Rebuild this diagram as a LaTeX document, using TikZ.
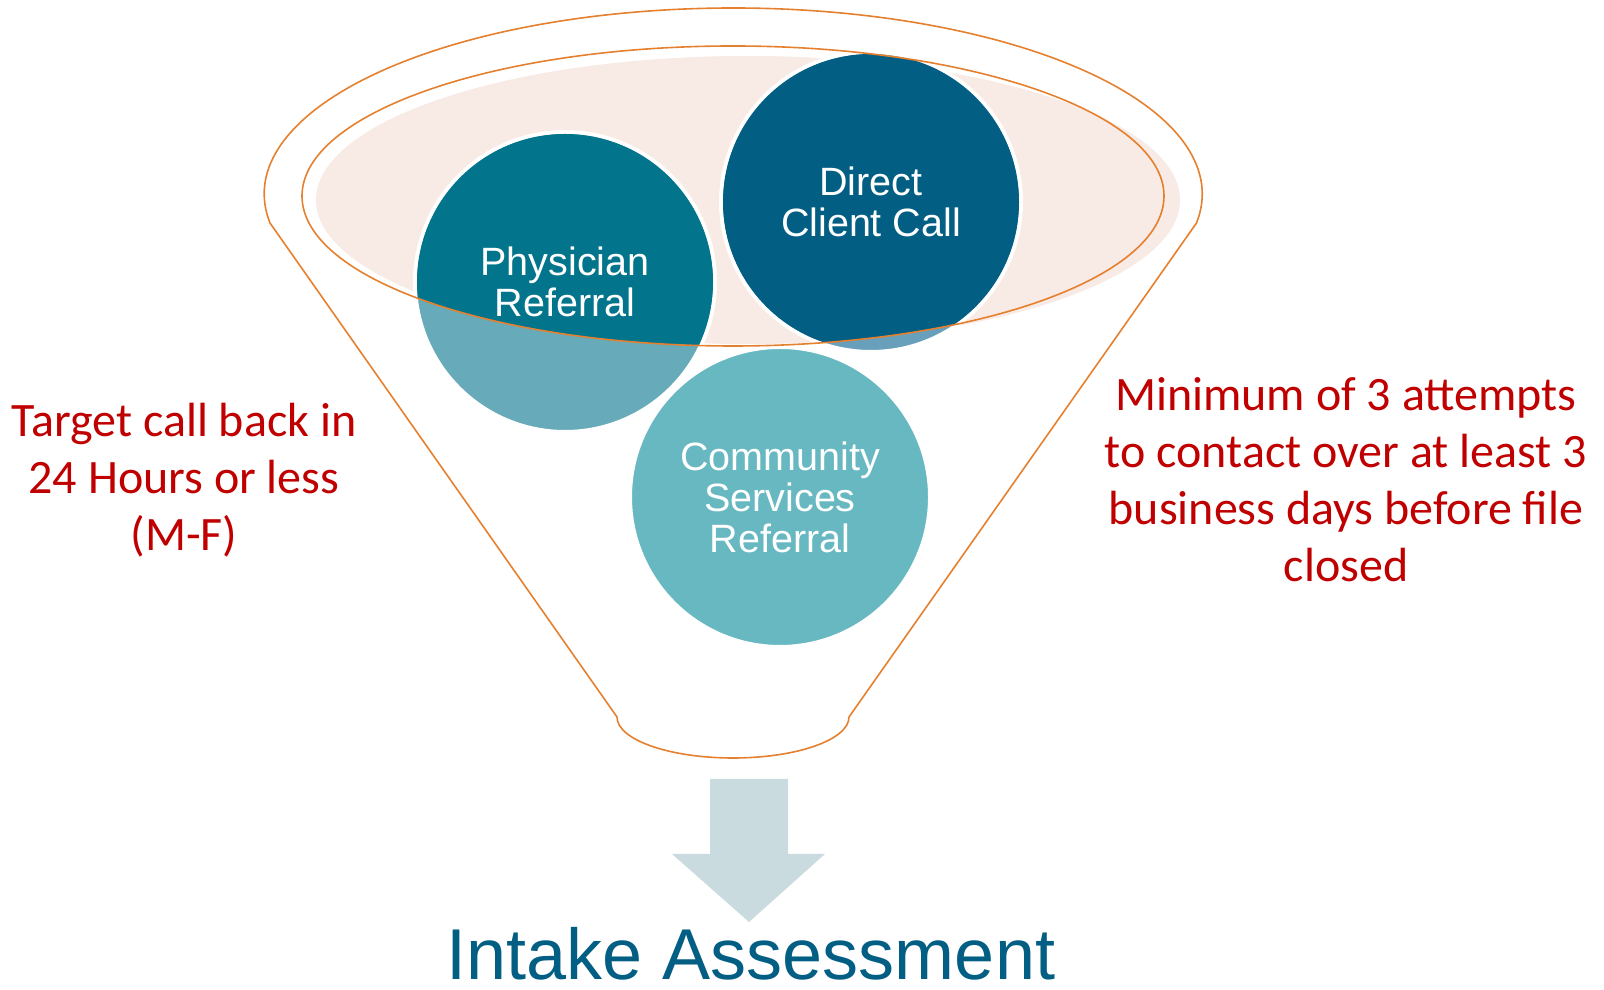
\documentclass[tikz,border=0pt]{standalone}
\usepackage{fontspec}
\setmainfont{Liberation Sans}
\newfontfamily\calibri{Carlito}
\definecolor{funnelorange}{HTML}{E5802F}
\definecolor{pinkfill}{HTML}{F8EAE4}
\definecolor{physdark}{HTML}{02748B}
\definecolor{physlight}{HTML}{67AAB9}
\definecolor{directdark}{HTML}{035E84}
\definecolor{directlight}{HTML}{68A0BC}
\definecolor{commlight}{HTML}{67B8C1}
\definecolor{redtext}{HTML}{C00000}
\definecolor{arrowgray}{HTML}{CADBDF}
\definecolor{intakeblue}{HTML}{035E84}
\begin{document}
\begin{tikzpicture}[x=1pt,y=1pt,
 bubble/.style={circle, minimum size=300pt, inner sep=0pt, draw=white, line width=4pt},
 bubbletext/.style={text=white, align=center, font=\fontsize{39.5}{41}\selectfont},
 note/.style={text=redtext, align=center, font=\calibri\fontsize{48}{57}\selectfont},
 outline/.style={draw=funnelorange, line width=1.6pt}]
\useasboundingbox (0,0) rectangle (1604,990);
\fill[pinkfill] (748,790) ellipse [x radius=432pt, y radius=144pt];
\node[bubble, fill=physlight] (phys) at (565,708) {};
\node[bubble, fill=directlight] (direct) at (871,788) {};
\node[bubble, fill=commlight] (comm) at (780,493) {};
\begin{scope}
\clip (733,794) ellipse [x radius=431pt, y radius=150pt];
\fill[physdark] (phys.center) circle [radius=148pt];
\fill[directdark] (direct.center) circle [radius=148pt];
\end{scope}
\node[bubbletext] (physlabel) at (phys.center) {Physician\\Referral};
\node[bubbletext] (directlabel) at (direct.center) {Direct\\Client Call};
\node[bubbletext] (commlabel) at (comm.center) {Community\\Services\\Referral};
\draw[outline] (733,794) ellipse [x radius=431pt, y radius=150pt];
\draw[outline, line join=round] (270,767) arc[start angle=188.97, end angle=-8.97, x radius=469pt, y radius=186pt] -- (849,273) arc[start angle=0, end angle=-180, x radius=116pt, y radius=41pt] -- cycle;
\fill[arrowgray] (710,211) -- (788,211) -- (788,136) -- (825,136) -- (749,68) -- (672,136) -- (710,136) -- cycle;
\node[anchor=base, text=intakeblue, font=\fontsize{72}{80}\selectfont, inner sep=0pt] (intake) at (751,10) {Intake Assessment};
\node[note] (left) at (184,510) {Target call back in\\24 Hours or less\\(M-F)};
\node[note] (right) at (1346,510) {Minimum of 3 attempts\\to contact over at least 3\\business days before file\\closed};
\end{tikzpicture}
\end{document}
